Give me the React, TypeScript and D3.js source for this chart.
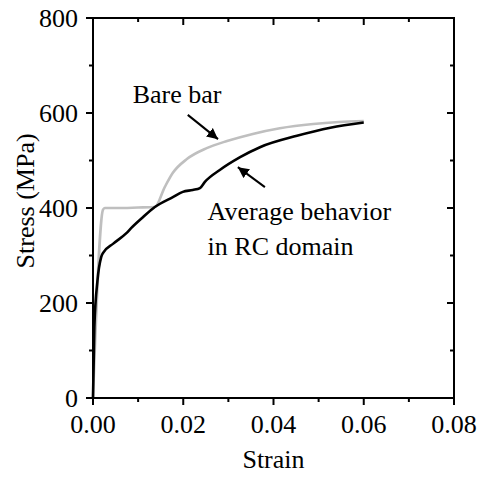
import * as d3 from "d3";

// Bare bar (grey) stress-strain curve
const bareStrain = [0, 0.0022, 0.0026, 0.005, 0.01, 0.0137, 0.0159, 0.0177, 0.0208, 0.0252, 0.0297, 0.0354, 0.0414, 0.0488, 0.0545, 0.06];
const bareStress = [0, 396, 400, 400, 401, 402, 444, 474, 503, 526, 541, 556, 568, 577, 581, 583];

// Average behaviour in RC domain (black)
const rcStrain = [0, 0.0003, 0.001, 0.0018, 0.0022, 0.0045, 0.0074, 0.0085, 0.011, 0.0137, 0.0177, 0.0199, 0.0221, 0.0237, 0.0248, 0.0281, 0.0326, 0.037, 0.0452, 0.0526, 0.06];
const rcStress = [0, 149, 248, 296, 305, 325, 347, 358, 380, 402, 423, 434, 438, 442, 455, 480, 507, 528, 552, 569, 580];

const xMajor = [0, 0.02, 0.04, 0.06, 0.08];
const xMinor = [0.01, 0.03, 0.05, 0.07];
const yMajor = [0, 200, 400, 600, 800];
const yMinor = [100, 300, 500, 700];

const width = 482;
const height = 478;
const margin = { top: 18, right: 28, bottom: 80, left: 93 };

const font = '"Liberation Serif", "Times New Roman", serif';
const fs = 26;

const App = () => {
  const x = d3.scaleLinear().domain([0, 0.08]).range([margin.left, width - margin.right]);
  const y = d3.scaleLinear().domain([0, 800]).range([height - margin.bottom, margin.top]);

  const line = d3
    .line<[number, number]>()
    .x((d) => x(d[0]))
    .y((d) => y(d[1]))
    .curve(d3.curveMonotoneX);

  const bare = bareStrain.map((s, i) => [s, bareStress[i]] as [number, number]);
  const rc = rcStrain.map((s, i) => [s, rcStress[i]] as [number, number]);

  const x0 = x(0);
  const x1 = x(0.08);
  const y0 = y(0);
  const y1 = y(800);

  return (
    <svg
      width={width}
      height={height}
      style={{ position: "absolute", left: 0, top: 0, background: "#fff", fontFamily: font }}
    >
      <defs>
        <marker id="arr" viewBox="0 0 10 10" refX="10" refY="5" markerWidth="11" markerHeight="11" markerUnits="userSpaceOnUse" orient="auto">
          <path d="M0,0 L10,5 L0,10 z" fill="#000" />
        </marker>
      </defs>

      <path d={line(bare) ?? ""} fill="none" stroke="#bfbfbf" strokeWidth={2.6} strokeLinejoin="round" />
      <path d={line(rc) ?? ""} fill="none" stroke="#000" strokeWidth={2.6} strokeLinejoin="round" />

      {/* frame */}
      <rect x={x0} y={y1} width={x1 - x0} height={y0 - y1} fill="none" stroke="#000" strokeWidth={2} />

      {/* x ticks */}
      {xMajor.map((t) => (
        <g key={"xM" + t}>
          <line x1={x(t)} x2={x(t)} y1={y0} y2={y0 + 7} stroke="#000" strokeWidth={2} />
          <line x1={x(t)} x2={x(t)} y1={y1} y2={y1 + 7} stroke="#000" strokeWidth={2} />
          <text x={x(t)} y={y0 + 35} textAnchor="middle" fontSize={fs}>
            {d3.format(".2f")(t)}
          </text>
        </g>
      ))}
      {xMinor.map((t) => (
        <g key={"xm" + t}>
          <line x1={x(t)} x2={x(t)} y1={y0} y2={y0 + 4} stroke="#000" strokeWidth={2} />
          <line x1={x(t)} x2={x(t)} y1={y1} y2={y1 + 4} stroke="#000" strokeWidth={2} />
        </g>
      ))}

      {/* y ticks */}
      {yMajor.map((t) => (
        <g key={"yM" + t}>
          <line x1={x0 - 7} x2={x0} y1={y(t)} y2={y(t)} stroke="#000" strokeWidth={2} />
          <line x1={x1 - 7} x2={x1} y1={y(t)} y2={y(t)} stroke="#000" strokeWidth={2} />
          <text x={x0 - 15} y={y(t) + 8.5} textAnchor="end" fontSize={fs}>
            {t}
          </text>
        </g>
      ))}
      {yMinor.map((t) => (
        <g key={"ym" + t}>
          <line x1={x0 - 4} x2={x0} y1={y(t)} y2={y(t)} stroke="#000" strokeWidth={2} />
          <line x1={x1 - 4} x2={x1} y1={y(t)} y2={y(t)} stroke="#000" strokeWidth={2} />
        </g>
      ))}

      {/* axis titles */}
      <text x={(x0 + x1) / 2} y={468} textAnchor="middle" fontSize={fs}>
        Strain
      </text>
      <text transform={`translate(34,${y(415)}) rotate(-90)`} textAnchor="middle" fontSize={fs}>
        Stress (MPa)
      </text>

      {/* annotations */}
      <text x={x(0.0088)} y={y(621)} fontSize={fs}>
        Bare bar
      </text>
      <line x1={x(0.021)} y1={y(596)} x2={x(0.0277)} y2={y(545)} stroke="#000" strokeWidth={2} markerEnd="url(#arr)" />

      <text x={x(0.0254)} y={y(375)} fontSize={fs}>
        Average behavior
      </text>
      <text x={x(0.0254)} y={y(301)} fontSize={fs}>
        in RC domain
      </text>
      <line x1={x(0.0381)} y1={y(444)} x2={x(0.0321)} y2={y(486)} stroke="#000" strokeWidth={2} markerEnd="url(#arr)" />
    </svg>
  );
};

export default App;
